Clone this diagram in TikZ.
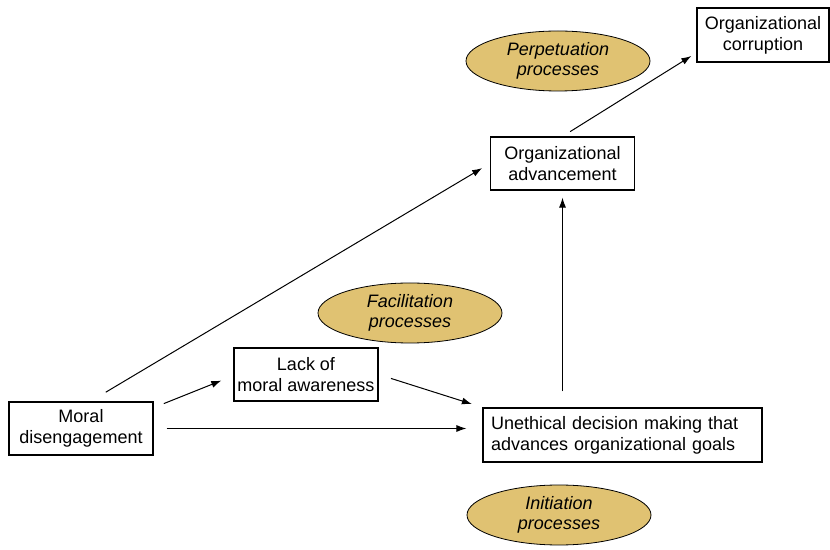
\documentclass[tikz,border=0pt]{standalone}
\usepackage{fontspec}
\setmainfont{Liberation Sans}
\usetikzlibrary{shapes.geometric, arrows.meta}
\definecolor{procgold}{RGB}{224,194,114}
\tikzset{
    box/.style={draw, rectangle, inner sep=0pt, align=center, line width=0.6pt},
    process/.style={draw, ellipse, fill=procgold, inner sep=0pt, minimum width=92pt, minimum height=30pt, align=center, font=\fontsize{9}{10}\selectfont\itshape},
    link/.style={-{Latex[length=5pt, width=3.5pt]}, line width=0.5pt}
}

\begin{document}
\begin{tikzpicture}[x=0.5pt, y=-0.5pt, font=\fontsize{9}{10.5}\selectfont]
          \useasboundingbox (0,0) rectangle (830,550);
          \node [box, minimum width=72pt, minimum height=26.5pt] (md) at (81,428.5) {Moral\\disengagement};
          \node [box, minimum width=72pt, minimum height=26.5pt] (lack) at (306,374.5) {Lack of\\moral awareness};
          \node [box, align=left, inner xsep=4pt, text width=131.5pt, minimum height=27pt] (uedm) at (622.5,435) {Unethical decision making that\\advances organizational goals};
          \node [box, minimum width=72pt, minimum height=26.5pt] (adv) at (562.5,163.5) {Organizational\\advancement};
          \node [box, minimum width=66pt, minimum height=27pt] (corr) at (763,35) {Organizational\\corruption};
          \node [process] (perp) at (558,61) {Perpetuation\\processes};
          \node [process] (facil) at (410,313) {Facilitation\\processes};
          \node [process] (init) at (559,515) {Initiation\\processes};
          \draw [link, shorten <=5.5pt, shorten >=6.5pt] (md.16) -- (lack.181);
          \draw [link, shorten <=6.5pt, shorten >=8pt] (md.east) -- (md.east -| uedm.west);
          \draw [link, shorten <=6.5pt, shorten >=5.5pt] (lack.east) -- (uedm.north west);
          \draw [link, shorten <=9pt, shorten >=4.5pt] (md.71) -- (adv.west);
          \draw [link, shorten <=8pt, shorten >=3.5pt] (uedm.north -| adv.south) -- (adv.south);
          \draw [link, shorten <=4.5pt, shorten >=3pt] (adv.north) -- (corr.195);
        \end{tikzpicture}
\end{document}
